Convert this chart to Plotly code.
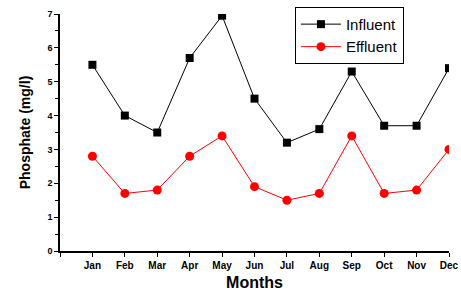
import plotly.graph_objects as go

months = ["Jan", "Feb", "Mar", "Apr", "May", "Jun", "Jul", "Aug", "Sep", "Oct", "Nov", "Dec"]
influent = [5.5, 4.0, 3.5, 5.7, 6.95, 4.5, 3.2, 3.6, 5.3, 3.7, 3.7, 5.4]
effluent = [2.8, 1.7, 1.8, 2.8, 3.4, 1.9, 1.5, 1.7, 3.4, 1.7, 1.8, 3.0]
xpos = list(range(1, len(months) + 1))

fig = go.Figure()
fig.add_trace(go.Scatter(x=xpos, y=influent, name="Influent", mode="lines+markers",
                         line=dict(color="black", width=1),
                         marker=dict(symbol="square", size=8, color="black")))
fig.add_trace(go.Scatter(x=xpos, y=effluent, name="Effluent", mode="lines+markers",
                         line=dict(color="red", width=1),
                         marker=dict(symbol="circle", size=9, color="red")))

fig.update_layout(
    width=461, height=292,
    margin=dict(l=60, r=12, t=14, b=41, autoexpand=False),
    paper_bgcolor="white", plot_bgcolor="white",
    font=dict(family="Liberation Sans, Arial", color="black"),
    legend=dict(x=0.604, y=1.03, xanchor="left", yanchor="top",
                bordercolor="black", borderwidth=1, bgcolor="white",
                font=dict(size=15), tracegroupgap=0, itemwidth=40),
    xaxis=dict(range=[0, 12], tickvals=[0] + xpos, ticktext=[""] + months,
               automargin=False,
               showline=True, linecolor="black", linewidth=1.5,
               ticks="outside", ticklen=4, tickcolor="black",
               showgrid=False, zeroline=False,
               tickfont=dict(size=10, weight="bold"),
               title=dict(text="<b>Months</b>", font=dict(size=16), standoff=7)),
    yaxis=dict(range=[0, 7], dtick=1, automargin=False,
               showline=True, linecolor="black", linewidth=1.5,
               ticks="outside", ticklen=4, tickcolor="black",
               minor=dict(dtick=0.5, ticks="outside", ticklen=3, tickcolor="black"),
               showgrid=False, zeroline=False,
               tickfont=dict(size=9, weight="bold"),
               title=dict(text="<b>Phosphate (mg/l)</b>", font=dict(size=14), standoff=14)),
)

fig.write_html("out.html", config={"displayModeBar": False},
               post_script="document.body.style.margin='0';")
